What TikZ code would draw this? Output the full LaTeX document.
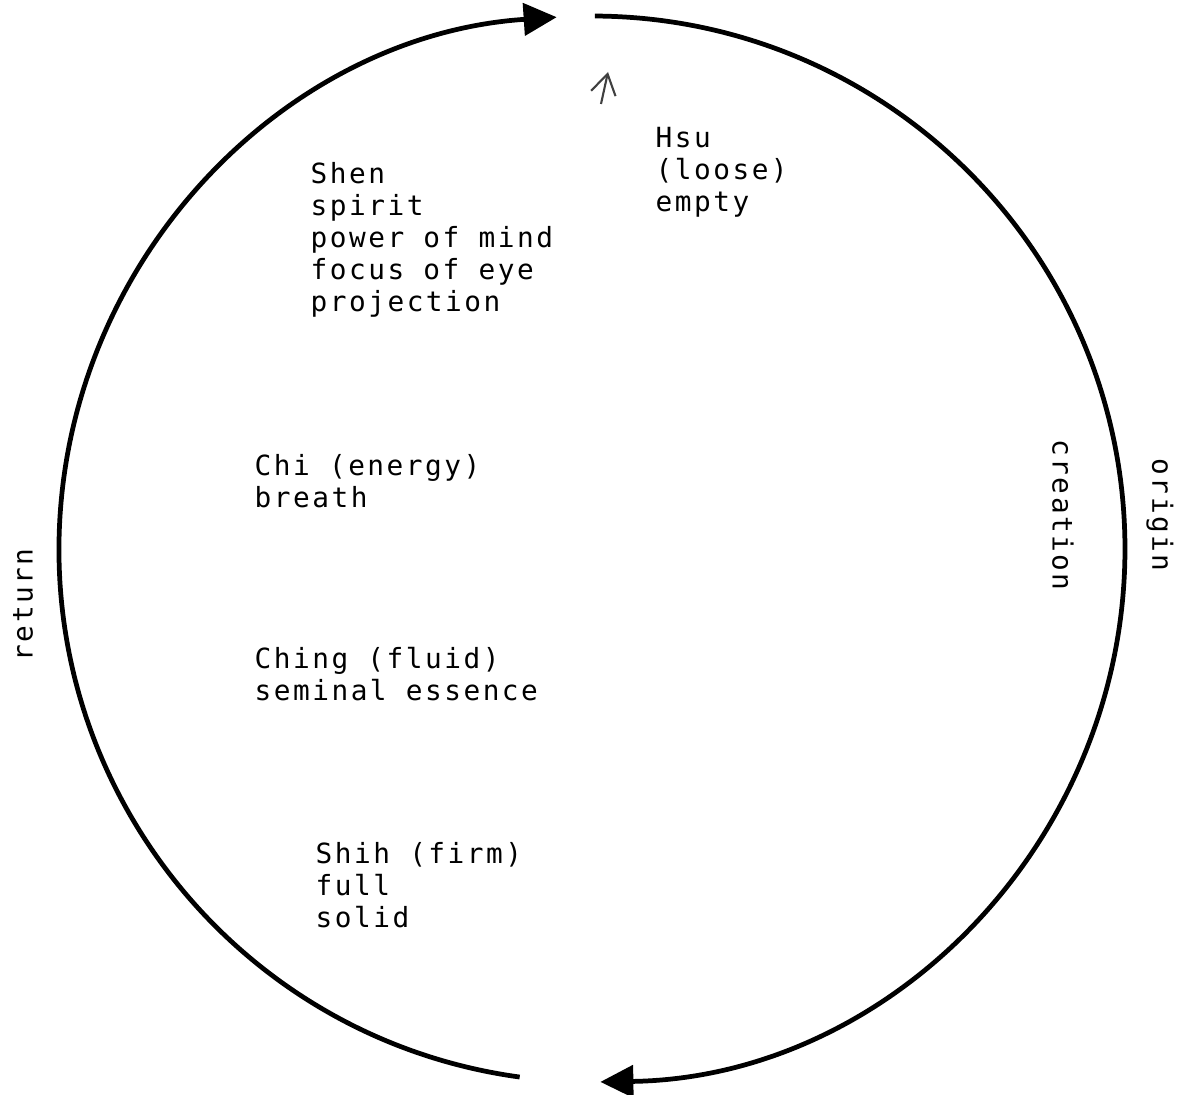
\documentclass[tikz,border=0pt]{standalone}
\usepackage{fontspec}
\newfontfamily\typewr[LetterSpace=9]{DejaVu Sans Mono}
\usetikzlibrary{arrows.meta}

\begin{document}
\begin{tikzpicture}[x=1cm, y=1cm,
  font={\typewr\fontsize{7.9}{9.1}\selectfont},
  stage/.style={align=left, anchor=north west, inner sep=0pt},
  sidelab/.style={inner sep=0pt},
  looparc/.style={draw=black, line width=1.35pt, -{Triangle[length=3.3mm, width=3.2mm]}},
  pointer/.style={draw=black!75, line width=0.6pt, -{Straight Barb[length=2mm, width=2.5mm]}}
]
  \useasboundingbox (0,0) rectangle (11.8,-10.95);
  \coordinate (C) at (5.92,-5.49);
  \draw[looparc] ([shift={(89.7:5.33)}]C) arc[start angle=89.7, end angle=-89.1, radius=5.33];
  \draw[looparc] ([shift={(262.2:5.33)}]C) arc[start angle=262.2, end angle=93.8, radius=5.33];
  \node[stage] (hsu)   at (6.55,-1.27) {Hsu\\(loose)\\empty};
  \node[stage] (shen)  at (3.10,-1.62) {Shen\\spirit\\power of mind\\focus of eye\\projection};
  \node[stage] (chi)   at (2.54,-4.54) {Chi (energy)\\breath};
  \node[stage] (ching) at (2.54,-6.47) {Ching (fluid)\\seminal essence};
  \node[stage] (shih)  at (3.15,-8.42) {Shih (firm)\\full\\solid};
  \coordinate (hsutail) at (6.01,-1.04);
  \coordinate (hsutip)  at (6.08,-0.72);
  \draw[pointer] (hsutail) -- (hsutip);
  \node[sidelab, rotate=-90] (creation) at (10.63,-5.15) {creation};
  \node[sidelab, rotate=-90] (origin)   at (11.60,-5.15) {origin};
  \node[sidelab, rotate=90]  (return)   at (0.23,-6.05)  {return};
\end{tikzpicture}
\end{document}
